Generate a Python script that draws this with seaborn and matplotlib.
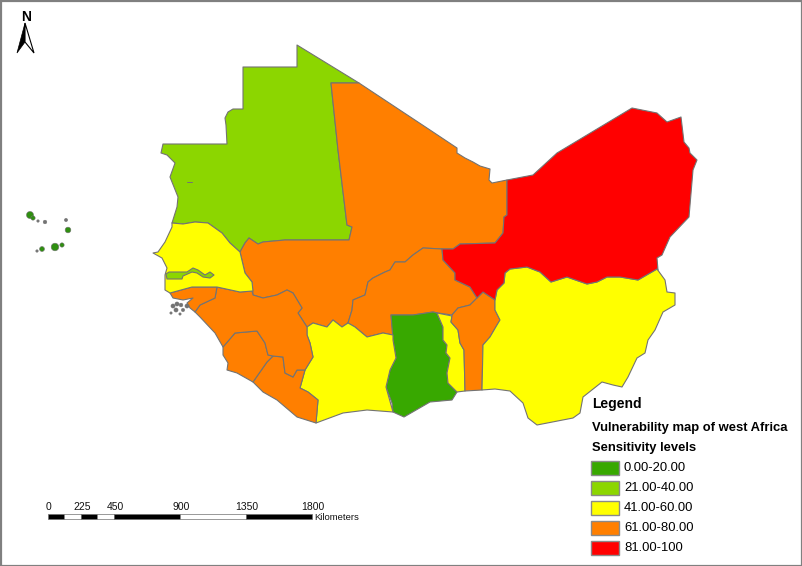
import numpy as np
import pandas as pd
import matplotlib.pyplot as plt
from matplotlib.patches import Polygon, Rectangle
import seaborn as sns

# outlines, (x, y) in image pixels
mauritania = [(163,144),(227,144),(226,125),(225,118),(228,112),(233,109),(243,109),(243,67),(297,67),(297,45),
              (359,83),(331,83),(338,150),(347,225),(352,227),(349,240),(287,240),(285,240),(263,242),(258,244),
              (249,238),(245,243),(240,252),(230,243),(222,233),(208,223),(195,222),(183,224),(172,223),(177,207),
              (178,197),(170,177),(175,163),(167,155),(161,153)]
mali = [(331,83),(359,83),(430,130),(457,148),(457,153),(465,158),(473,162),(480,166),(490,169),(489,180),(492,183),
        (507,180),(507,215),(504,217),(503,233),(495,243),(460,244),(453,249),(442,249),(423,248),(413,255),(405,262),
        (395,262),(390,270),(385,272),(373,278),(368,282),(365,295),(353,300),(352,310),(348,323),(342,327),(333,320),
        (327,327),(313,323),(307,327),(298,313),(302,308),(293,293),(287,290),(277,295),(263,298),(253,295),(252,282),
        (245,273),(240,252),(245,243),(249,238),(258,244),(263,242),(285,240),(349,240),(352,227),(347,225),(338,150)]
burkina = [(348,323),(352,310),(353,300),(365,295),(368,282),(373,278),(385,272),(390,270),(395,262),(405,262),(413,255),
           (423,248),(442,249),(443,260),(455,273),(455,280),(470,287),(477,298),(470,305),(458,308),(452,315),(438,313),
           (433,312),(413,315),(391,315),(393,335),(383,333),(367,337),(355,327)]
ghana = [(391,315),(413,315),(433,312),(437,313),(443,327),(443,340),(447,345),(446,353),(450,358),(447,373),(448,383),
         (457,392),(452,400),(430,402),(404,417),(393,412),(392,403),(386,387),(390,370),(396,358),(393,340)]
togo = [(437,313),(452,316),(451,322),(458,330),(460,343),(464,350),(465,391),(457,392),(448,383),(447,373),(450,358),
        (446,353),(447,345),(443,340),(443,327)]
benin = [(477,298),(483,292),(495,300),(495,310),(500,320),(497,325),(490,337),(483,345),(482,390),(465,391),(464,350),
         (460,343),(458,330),(451,322),(452,316),(452,315),(458,308),(470,305)]
nigeria = [(495,300),(497,290),(504,283),(505,273),(510,269),(527,267),(540,272),(551,282),(567,277),(587,284),(597,282),
           (607,277),(620,277),(638,280),(657,269),(665,280),(667,292),(675,293),(675,305),(663,312),(655,330),(648,340),
           (645,353),(637,358),(628,377),(622,387),(613,385),(602,382),(583,397),(580,413),(573,418),(537,425),(528,418),
           (523,403),(510,391),(495,389),(482,390),(483,345),(490,337),(497,325),(500,320),(495,310)]
niger = [(507,180),(533,175),(557,153),(632,108),(657,113),(667,122),(681,117),(684,142),(689,148),(690,153),(697,160),
         (693,170),(689,217),(670,237),(662,255),(657,258),(658,270),(657,269),(638,280),(620,277),(607,277),(597,282),(587,284),
         (567,277),(551,282),(540,272),(527,267),(510,269),(505,273),(504,283),(497,290),(495,300),(483,292),(477,298),
         (470,287),(455,280),(455,273),(443,260),(442,249),(453,249),(460,244),(495,243),(503,233),(504,217),(507,215)]
ivory_coast = [(307,327),(313,323),(327,327),(333,320),(342,327),(348,323),(355,327),(367,337),(383,333),(393,335),(393,340),(396,358),
               (390,370),(386,387),(393,412),(367,410),(343,413),(316,423),(318,400),(308,392),(300,388),(305,370),(313,357),
               (310,343),(307,335)]
liberia = [(316,423),(297,417),(277,400),(263,392),(253,382),(267,362),(273,356),(283,357),(285,373),(293,377),(297,370),(305,370),
           (300,388),(308,392),(318,400)]
sierra_leone = [(223,347),(235,333),(257,331),(265,343),(268,355),(273,356),(267,362),(253,382),(237,373),(227,370),(228,363),(223,355)]
guinea = [(217,287),(240,292),(252,291),(253,295),(263,298),(277,295),(287,290),(293,293),(302,308),(298,313),(307,327),
          (307,335),(310,343),(313,357),(305,370),(297,370),(293,377),(285,373),(283,357),(273,356),(268,355),(265,343),
          (257,331),(235,333),(223,347),(215,333),(200,317),(195,312),(200,305),(215,298)]
guinea_bissau = [(170,293),(192,287),(217,287),(215,298),(200,305),(195,312),(190,308),(187,303),(193,298),(183,300),(173,298)]
senegal = [(172,223),(183,224),(195,222),(208,223),(222,233),(230,243),(240,252),(245,273),(252,282),(253,291),(240,292),
           (217,287),(192,287),(170,293),(165,290),(165,278),(165,275),(167,268),(162,258),(153,253),(158,252),(165,242),
           (172,227)]
gambia = [(166,274),(169,272),(187,272),(193,268),(198,270),(205,275),(210,272),(214,275),(210,278),(203,277),(197,273),
          (192,272),(183,276),(182,279),(167,279)]

countries = [mauritania, mali, burkina, ghana, togo, benin, nigeria, niger, ivory_coast,
             liberia, sierra_leone, guinea, guinea_bissau, senegal, gambia]
country_levels = [1, 3, 3, 0, 2, 3, 2, 4, 2, 3, 3, 3, 3, 2, 1]

# Cape Verde
island_x = [30, 33, 38, 45, 66, 68, 55, 62, 42, 37]
island_y = [215, 218, 221, 222, 220, 230, 247, 245, 249, 251]
island_size = [34, 12, 3, 8, 6, 22, 40, 12, 16, 3]
island_kind = ['g', 'g', 'e', 'e', 'e', 'g', 'g', 'g', 'g', 'e']
# Bissagos
bissagos_x = [173, 177, 181, 176, 183, 187, 171, 180]
bissagos_y = [306, 304, 305, 310, 310, 306, 313, 314]
bissagos_size = [8, 8, 7, 8, 6, 8, 4, 4]

level_labels = ['0.00-20.00', '21.00-40.00', '41.00-60.00', '61.00-80.00', '81.00-100']
level_colors = ['#38A800', '#8CD600', '#FFFF00', '#FF7F00', '#FF0000']

scale_ticks = [0, 225, 450, 900, 1350, 1800]
scale_breaks = [0, 112.5, 225, 337.5, 450, 900, 1350, 1800]

sns.set_theme(style='white')
plt.rcParams['font.family'] = ['Liberation Sans', 'DejaVu Sans']
palette = sns.color_palette(level_colors)
edge = '#737373'

fig = plt.figure(figsize=(8.03, 5.66), dpi=100)
ax = fig.add_axes([0, 0, 1, 1])

# ---- map ----
for outline, level in zip(countries, country_levels):
    ax.add_patch(Polygon(outline, closed=True, facecolor=palette[level], edgecolor=edge, lw=0.8, joinstyle='round'))

ax.plot([187, 192], [182, 182], color=edge, lw=0.7)

islands = pd.DataFrame({'x': island_x, 'y': island_y, 's': island_size, 'kind': island_kind})
sns.scatterplot(data=islands, x='x', y='y', size='s', sizes=(3, 30), hue='kind',
                palette={'g': '#2F8F10', 'e': edge}, edgecolor=edge, linewidth=0.4, legend=False, ax=ax)
sns.scatterplot(x=bissagos_x, y=bissagos_y, size=bissagos_size, sizes=(3, 9), color=edge,
                edgecolor=edge, linewidth=0.3, legend=False, ax=ax)
ax.set_xlim(0, 803)
ax.set_ylim(566, 0)
ax.axis('off')

# ---- north arrow ----
ax.text(26, 17, 'N', fontsize=10, fontweight='bold', color='black', ha='center', va='center')
ax.add_patch(Polygon([(25, 23), (25, 42), (17, 53)], closed=True, facecolor='black', edgecolor='black', lw=0.5))
ax.add_patch(Polygon([(25, 23), (25, 42), (34, 53)], closed=True, facecolor='white', edgecolor='black', lw=0.8))

# ---- scale bar ----
km_px = 264 / 1800
for i, (a, b) in enumerate(zip(scale_breaks[:-1], scale_breaks[1:])):
    ax.add_patch(Rectangle((48 + a * km_px, 513.5), (b - a) * km_px, 5, facecolor='black' if i % 2 == 0 else 'white',
                           edgecolor='#707070', lw=0.5))
for km in scale_ticks:
    ax.text(49 + km * km_px, 507, str(km), fontsize=7.5, ha='center', va='center', color='#111111')
ax.text(314, 517, 'Kilometers', fontsize=6.8, ha='left', va='center', color='#111111')

# ---- legend ----
ax.text(592, 404, 'Legend', fontsize=10, fontweight='bold', color='black', va='center')
ax.text(592, 428, 'Vulnerability map of west Africa', fontsize=9.4, fontweight='bold', color='black', va='center')
ax.text(592, 448, 'Sensitivity levels', fontsize=9.4, fontweight='bold', color='black', va='center')
for i, label in enumerate(level_labels):
    y = 468 + 20 * i
    ax.add_patch(Rectangle((591, y - 7), 28, 14, facecolor=palette[i], edgecolor='#8A8A8A', lw=1))
    ax.text(624, y, label, fontsize=9.4, color='black', va='center')

# frame
ax.add_patch(Rectangle((0.5, 0.5), 802, 565, facecolor='none', edgecolor='#808080', lw=1.6))

fig.savefig('out.png', dpi=100)
